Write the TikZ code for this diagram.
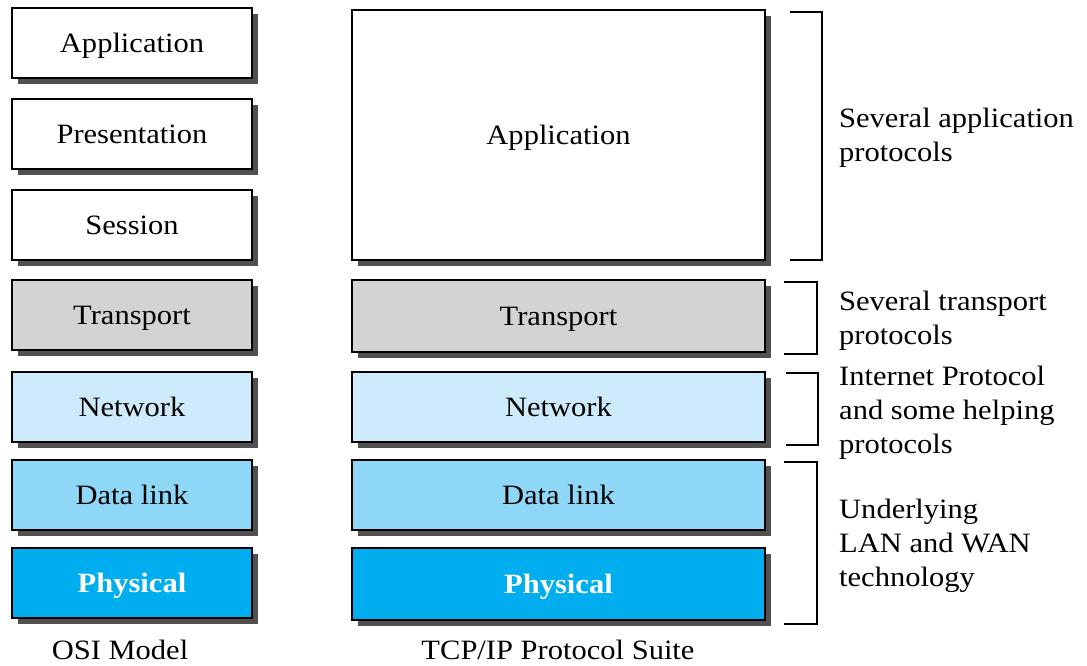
\documentclass[tikz,border=0pt]{standalone}
\usepackage{fontspec}
\setmainfont[FakeStretch=1.09]{Liberation Serif}
\usetikzlibrary{shadows}
\definecolor{shadowgray}{HTML}{505050}
\definecolor{transgray}{HTML}{D3D3D3}
\definecolor{netblue}{HTML}{CDEBFA}
\definecolor{dlblue}{HTML}{8ED7F6}
\definecolor{phyblue}{HTML}{00ADEE}
\tikzset{
  layer/.style={draw=black, line width=1.2pt, minimum height=70pt,
    font=\fontsize{28}{34}\selectfont, inner sep=0pt, text height=22pt, text depth=4pt,
    drop shadow={shadow xshift=6pt, shadow yshift=-6pt, fill=shadowgray, opacity=1}},
  osi/.style={layer, minimum width=240pt},
  tcp/.style={layer, minimum width=413pt},
  phys/.style={fill=phyblue, text=white, font=\fontsize{28}{34}\selectfont\bfseries},
  note/.style={anchor=west, align=left, inner sep=0pt, font=\fontsize{28}{34}\selectfont},
  caption/.style={inner sep=0pt, font=\fontsize{28}{34}\selectfont},
  brk/.style={draw=black, line width=1.2pt}
}
\begin{document}
\begin{tikzpicture}[x=1pt,y=-1pt]
\useasboundingbox (0,0) rectangle (1087,665);
% OSI
\node[osi, fill=white] (oapp) at (132,43) {Application};
\node[osi, fill=white] (opres) at (132,134) {Presentation};
\node[osi, fill=white] (osess) at (132,225) {Session};
\node[osi, fill=transgray] (otrans) at (132,315) {Transport};
\node[osi, fill=netblue] (onet) at (132,407) {Network};
\node[osi, fill=dlblue] (odl) at (132,495) {Data link};
\node[osi, phys] (ophy) at (132,583) {Physical};
\node[caption] (ocap) at (120,650) {OSI Model};
% TCP/IP
\node[tcp, fill=white, minimum height=250pt] (tapp) at (558.5,135) {Application};
\node[tcp, fill=transgray, minimum height=72pt] (ttrans) at (558.5,316) {Transport};
\node[tcp, fill=netblue] (tnet) at (558.5,407) {Network};
\node[tcp, fill=dlblue] (tdl) at (558.5,495) {Data link};
\node[tcp, phys, minimum height=72pt] (tphy) at (558.5,584) {Physical};
\node[caption] (tcap) at (558,650) {TCP/IP Protocol Suite};
% brackets
\draw[brk] (790,12) -- (822,12) -- (822,260) -- (790,260);
\draw[brk] (784,282) -- (817,282) -- (817,354) -- (784,354);
\draw[brk] (786,373) -- (818,373) -- (818,445) -- (786,445);
\draw[brk] (784,462) -- (817,462) -- (817,624) -- (784,624);
% notes
\node[note] (n1) at (839,138) {Several application\\protocols};
\node[note] (n2) at (839,321) {Several transport\\protocols};
\node[note] (n3) at (839,413) {Internet Protocol\\and some helping\\protocols};
\node[note] (n4) at (839,546) {Underlying\\LAN and WAN\\technology};
\end{tikzpicture}
\end{document}
